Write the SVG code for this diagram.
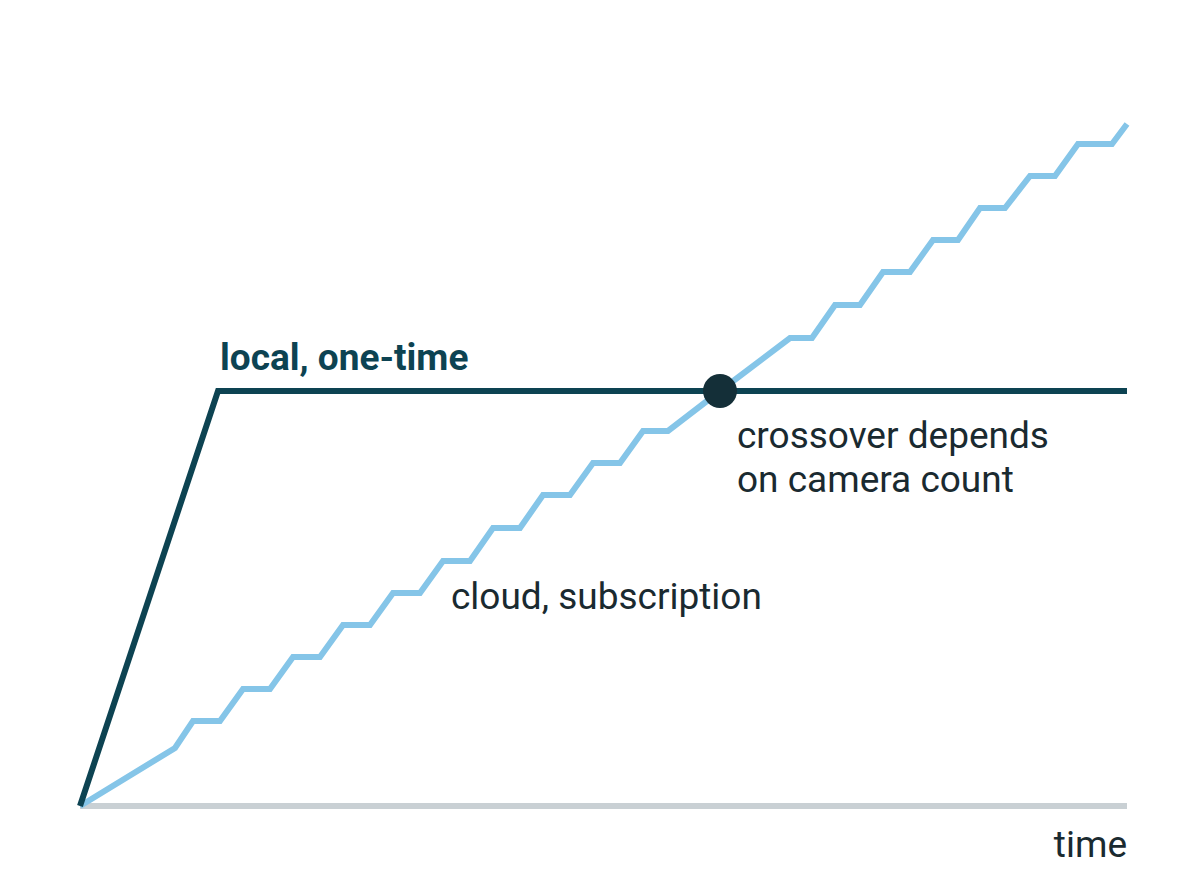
<svg xmlns="http://www.w3.org/2000/svg" width="1200" height="896" viewBox="0 0 1200 896">
<style>
.t{font-family:Roboto,"Liberation Sans",sans-serif;font-size:37px;fill:#1a2a30}
</style>
<rect width="1200" height="896" fill="#fff"/>
<g id="connectors" fill="none" stroke-linejoin="miter">
<line id="axis" x1="80" y1="806" x2="1127" y2="806" stroke="#c9d0d4" stroke-width="6"/>
<path id="cloud" d="M80,806 L175,748 L193,721 L220,721 L243,689 L270,689 L293,657 L320,657 L343,625 L370,625 L393,593 L420,593 L443,561 L470,561 L493,528 L520,528 L543,495 L570,495 L593,463 L620,463 L643,431 L668,431 L720,391 L790,338 L812,338 L835,305 L860,305 L883,272 L910,272 L933,240 L958,240 L980,208 L1005,208 L1030,176 L1055,176 L1078,144 L1112,144 L1127,124" stroke="#85c5e8" stroke-width="6"/>
<path id="local" d="M80,806 L218,391 L1127,391" stroke="#0d4352" stroke-width="6"/>
</g>
<g id="crossover"><circle cx="720" cy="391" r="17" fill="#142f38"/></g>
<g id="labels">
<text x="220" y="370" class="t" style="font-weight:bold;fill:#0d4352">local, one-time</text>
<text x="737" y="448" class="t">crossover depends</text>
<text x="737" y="492" class="t">on camera count</text>
<text x="451" y="609" class="t">cloud, subscription</text>
<text x="1127" y="857" class="t" text-anchor="end">time</text>
</g>
</svg>
